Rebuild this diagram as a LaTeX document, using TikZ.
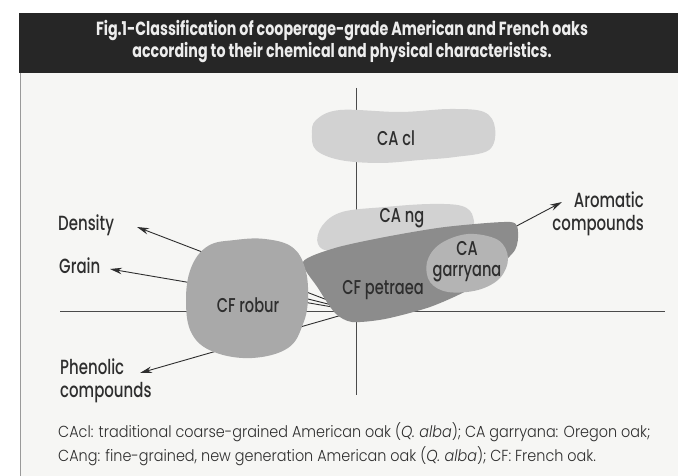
\documentclass[tikz,border=0pt]{standalone}
\usepackage{fontspec}
\setmainfont{Poppins}[FakeStretch=0.75]
\newfontfamily\capfont{Poppins Light}[FakeStretch=0.9]
\newfontfamily\labfont{Poppins Medium}[FakeStretch=0.73]
\usetikzlibrary{arrows.meta}
\definecolor{barcol}{HTML}{262626}
\definecolor{panelcol}{HTML}{F6F6F4}
\definecolor{inkcol}{HTML}{2E2E2E}
\definecolor{axiscol}{HTML}{4A4A4A}
\definecolor{lightblob}{HTML}{D2D2D2}
\definecolor{robcol}{HTML}{A9A9A9}
\definecolor{petcol}{HTML}{8C8C8C}
\definecolor{garcol}{HTML}{B4B4B4}
\tikzset{
  axisline/.style={draw=axiscol, line width=0.9pt},
  vecline/.style={draw=inkcol, line width=0.9pt},
  vecarrow/.style={vecline, -{Stealth[length=12pt,width=6.5pt]}},
  lbl/.style={font=\labfont\fontsize{20.5}{23}\selectfont, text=inkcol, inner sep=0pt},
  blobtxt/.style={font=\labfont\fontsize{20}{20}\selectfont, text=inkcol, inner sep=0pt, align=center},
}
\begin{document}
\begin{tikzpicture}[x=1pt,y=-1pt]
\useasboundingbox (0,0) rectangle (678,476);
\fill[white] (0,0) rectangle (678,476);
\fill[panelcol] (20,72) rectangle (678,476);
\fill[barcol] (19,13) rectangle (678,73);
\draw[draw=gray!80, line width=1.3pt] (20.6,73) -- (20.6,476);
\node[font=\bfseries\fontsize{19}{22}\selectfont, text=white!93!black, align=center, inner sep=0pt] (title) at (342,42)
  {Fig.1-Classification of cooperage-grade American and French oaks\\according to their chemical and physical characteristics.};

% axes
\coordinate (o) at (356,311);
\coordinate (vtop) at (356,88);
\coordinate (vbot) at (356,395);
\coordinate (hl) at (60,311);
\coordinate (hr) at (665,311);
\draw[axisline] (vtop) -- (vbot);
\draw[axisline] (hl) -- (hr);

% labels
\node[lbl, anchor=base west] (dens) at (58,231) {Density};
\node[lbl, anchor=base west] (grain) at (59,273) {Grain};
\node[lbl, anchor=west, align=left] (phen) at (60,381) {Phenolic\\compounds};
\node[lbl, anchor=east, align=right] (arom) at (644,214) {Aromatic\\compounds};

% vectors
\coordinate (dtip) at (137,227);
\coordinate (gtip) at (110,269);
\coordinate (ptip) at (140,373);
\coordinate (atip) at (562,202);
\coordinate (hid) at (280,292);
\draw[vecarrow] (o) -- (dtip);
\draw[vecarrow] (o) -- (gtip);
\draw[vecarrow] (o) -- (ptip);
\draw[vecarrow] (o) -- (atip);
\draw[vecline] (o) -- (hid);

% blobs
\fill[lightblob] plot[smooth cycle, tension=0.6] coordinates {
 (316,120) (340,110) (400,112) (450,109) (484,112) (495,128) (489,150) (455,157) (420,160) (380,163) (340,160) (316,150) (312,134)};
\node[blobtxt] (cacl) at (396,138) {CA cl};

\fill[lightblob] plot[smooth cycle, tension=0.6] coordinates {
 (322,226) (342,212) (385,207) (430,204) (462,206) (473,217) (466,232) (400,245) (335,251) (318,244)};

\fill[petcol] plot[smooth cycle, tension=0.45] coordinates {
 (303,262) (335,248) (385,237) (445,227) (510,222) (518,232) (515,250) (495,270) (468,290) (430,307) (385,319) (352,322) (335,313) (318,288)};

\fill[garcol] plot[smooth cycle, tension=0.6] coordinates {
 (440,244) (468,234) (498,240) (508,258) (500,278) (478,290) (448,292) (430,282) (427,262)};

\fill[robcol] plot[smooth cycle, tension=0.65] coordinates {
 (208,246) (235,240) (265,239) (292,247) (305,268) (308,298) (303,324) (288,348) (252,358) (214,352) (192,334) (186,302) (191,268)};

\node[blobtxt] (cang) at (402,218) {CA ng};
\node[blobtxt] (cfpet) at (383,290) {CF petraea};
\node[blobtxt] (cagar) at (467,262) {CA\\[1pt]garryana};
\node[blobtxt] (cfrob) at (248,305) {CF robur};

% caption
\node[font=\capfont\fontsize{16}{24}\selectfont, text=inkcol, anchor=north west, align=left, inner sep=0pt] (cap) at (58,422)
 {CAcl: traditional coarse-grained American oak (\textit{Q. alba}); CA garryana: Oregon oak;\\
  CAng: fine-grained, new generation American oak (\textit{Q. alba}); CF: French oak.};
\end{tikzpicture}
\end{document}
